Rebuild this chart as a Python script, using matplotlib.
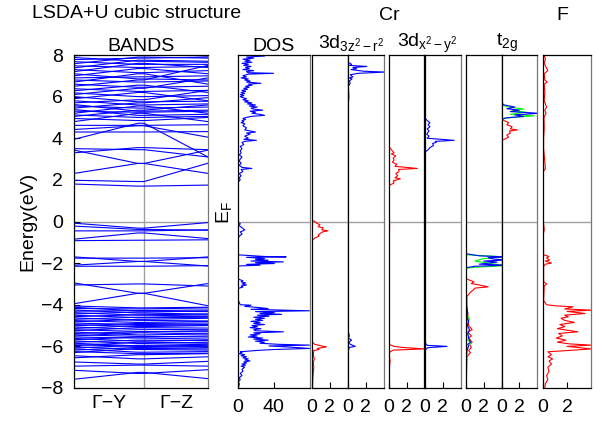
import matplotlib.pyplot as plt
import numpy as np

plt.rcParams['font.family'] = ['Liberation Sans', 'DejaVu Sans']
plt.rcParams['mathtext.fontset'] = 'custom'
plt.rcParams['mathtext.rm'] = 'Liberation Sans'
plt.rcParams['mathtext.it'] = 'Liberation Sans'
plt.rcParams['mathtext.sf'] = 'Liberation Sans'

FS = 14

# k path: Y (0) -> Gamma (1.0) -> Z (1.91); bands meet just before Gamma
kpath = [0.0, 0.91, 1.0, 1.91]
k_gamma = 1.0

# band energies (eV) at Y, Gamma and Z
band_y = [-7.58, -7.15, -6.95, -6.75, -6.55, -6.45,
          -6.30, -6.25, -6.18, -6.12, -6.08, -6.02, -5.97, -5.92, -5.85, -5.80,
          -5.74, -5.68, -5.62, -5.55, -5.50, -5.44, -5.38, -5.31, -5.25, -5.20,
          -5.14, -5.07, -5.01, -4.95, -4.88, -4.82, -4.76, -4.70, -4.63, -4.57,
          -4.50, -4.44, -4.38, -4.31, -4.25, -4.18, -4.12, -4.06,
          -3.95, -2.95, -3.05,
          -1.70, -1.76, -2.10, -2.15,
          -0.08, -0.22, -0.45, -0.85, -0.92,
          1.80, 1.98, 2.31, 3.43, 3.50, 3.30,
          3.95, 4.30, 4.42, 4.62, 4.80, 4.95, 5.05, 5.12, 5.20, 5.30, 5.38, 5.45,
          5.55, 5.62, 5.70, 5.80, 5.90, 6.00, 6.10, 6.18, 6.28, 6.38, 6.50, 6.60,
          6.70, 6.80, 6.90, 7.00, 7.10, 7.20, 7.30, 7.38, 7.48, 7.58, 7.68, 7.78,
          7.88, 7.96]
band_g = [-7.25, -7.30, -6.90, -6.85, -6.40, -6.60,
          -6.10, -6.35, -6.05, -6.28, -5.95, -6.15, -5.80, -6.00, -5.98, -5.70,
          -5.86, -5.55, -5.75, -5.60, -5.35, -5.52, -5.30, -5.45, -5.10, -5.28,
          -5.00, -5.18, -4.90, -5.05, -4.95, -4.70, -4.85, -4.60, -4.75, -4.48,
          -4.62, -4.35, -4.50, -4.28, -4.40, -4.20, -4.30, -4.15,
          -3.45, -3.45, -3.00,
          -1.92, -1.76, -1.92, -2.15,
          -0.32, -0.38, -0.45, -0.55, -0.90,
          1.70, 1.92, 2.79, 2.79, 3.45, 3.55,
          4.72, 4.30, 4.60, 4.62, 5.20, 4.85, 5.35, 5.00, 5.55, 5.25, 5.10, 5.70,
          5.45, 5.30, 5.85, 5.60, 6.20, 5.75, 6.40, 6.00, 6.55, 6.25, 6.80, 6.45,
          7.10, 6.70, 6.95, 7.35, 6.85, 7.60, 7.15, 7.75, 7.40, 7.90, 7.55, 7.85,
          7.70, 8.10]
band_z = [-7.55, -7.12, -6.95, -6.72, -6.35, -6.50,
          -6.12, -6.33, -6.00, -6.25, -5.90, -6.18, -5.85, -6.05, -5.95, -5.72,
          -5.80, -5.50, -5.70, -5.65, -5.40, -5.55, -5.25, -5.40, -5.12, -5.30,
          -4.95, -5.20, -4.88, -5.00, -4.98, -4.65, -4.80, -4.55, -4.78, -4.45,
          -4.60, -4.30, -4.55, -4.25, -4.45, -4.15, -4.33, -4.12,
          -4.05, -2.98, -3.10,
          -1.70, -1.74, -2.14, -2.12,
          -0.05, -0.42, -0.40, -0.82, -0.88,
          1.75, 2.80, 2.31, 3.43, 3.10, 3.45,
          3.10, 4.32, 4.05, 4.65, 4.80, 5.00, 5.60, 5.05, 5.20, 5.30, 5.15, 5.95,
          5.50, 5.35, 6.30, 5.65, 5.80, 5.78, 6.90, 6.05, 6.20, 6.30, 7.50, 6.50,
          6.60, 6.75, 7.00, 7.10, 6.80, 7.40, 7.25, 7.70, 7.45, 7.85, 7.55, 7.90,
          7.65, 7.95]

# total DOS (energy, states/eV)
dos_total = [(8.0, 25), (7.95, 30), (7.9, 10), (7.85, 18), (7.8, 6), (7.75, 14), (7.7, 8),
             (7.65, 16), (7.6, 5), (7.55, 12), (7.5, 7), (7.45, 15), (7.4, 9), (7.35, 13),
             (7.3, 6), (7.25, 18), (7.2, 10), (7.15, 12), (7.12, 40), (7.08, 12), (7.0, 6),
             (6.95, 10), (6.9, 4), (6.85, 12), (6.8, 8), (6.75, 14), (6.7, 10), (6.64, 26),
             (6.6, 12), (6.55, 16), (6.5, 9), (6.45, 13), (6.4, 7), (6.35, 11), (6.3, 5),
             (6.25, 9), (6.2, 4), (6.15, 8), (6.1, 3), (6.05, 7), (6.0, 3), (5.95, 6),
             (5.9, 10), (5.85, 6), (5.8, 12), (5.75, 8), (5.7, 16), (5.65, 11), (5.6, 20),
             (5.55, 13), (5.5, 22), (5.45, 15), (5.4, 18), (5.35, 28), (5.3, 14), (5.25, 20),
             (5.2, 16), (5.15, 25), (5.1, 30), (5.05, 15), (5.0, 10), (4.95, 6), (4.9, 9),
             (4.85, 5), (4.8, 7), (4.75, 4), (4.7, 8), (4.6, 6), (4.5, 10), (4.4, 8),
             (4.3, 20), (4.25, 10), (4.2, 14), (4.1, 8), (4.0, 12), (3.95, 7), (3.9, 21),
             (3.85, 8), (3.8, 5), (3.7, 7), (3.6, 3), (3.5, 5), (3.4, 3), (3.3, 4), (3.2, 2),
             (3.1, 5), (3.0, 3), (2.9, 2), (2.8, 4), (2.7, 2), (2.6, 5), (2.55, 16), (2.5, 4),
             (2.4, 6), (2.3, 2), (2.2, 4), (2.1, 2), (2.0, 3), (1.9, 1), (1.8, 0.5), (1.7, 0),
             (0.0, 0), (-0.05, 1), (-0.1, 3), (-0.2, 2), (-0.3, 5), (-0.4, 8), (-0.45, 6),
             (-0.5, 3), (-0.6, 5), (-0.7, 2), (-0.8, 1), (-0.9, 0), (-1.6, 0), (-1.68, 30),
             (-1.7, 54), (-1.72, 10), (-1.78, 30), (-1.82, 20), (-1.86, 34), (-1.9, 15),
             (-1.94, 51), (-1.98, 20), (-2.02, 41), (-2.06, 10), (-2.1, 25), (-2.14, 0),
             (-2.75, 0), (-2.8, 3), (-2.85, 6), (-2.9, 4), (-2.95, 9), (-3.0, 5), (-3.05, 10),
             (-3.1, 4), (-3.15, 6), (-3.2, 2), (-3.25, 0), (-3.6, 0), (-3.8, 1), (-3.9, 2),
             (-4.0, 3), (-4.02, 15), (-4.08, 8), (-4.12, 20), (-4.18, 34), (-4.22, 15),
             (-4.29, 80), (-4.33, 20), (-4.38, 41), (-4.42, 25), (-4.46, 49), (-4.5, 22),
             (-4.55, 35), (-4.6, 18), (-4.65, 30), (-4.7, 20), (-4.75, 28), (-4.8, 15),
             (-4.85, 25), (-4.9, 18), (-4.95, 30), (-5.0, 16), (-5.05, 22), (-5.1, 14),
             (-5.15, 26), (-5.2, 18), (-5.25, 20), (-5.3, 51), (-5.35, 18), (-5.4, 25),
             (-5.45, 14), (-5.5, 22), (-5.55, 12), (-5.6, 28), (-5.65, 18), (-5.7, 34),
             (-5.75, 20), (-5.8, 30), (-5.85, 25), (-5.9, 45), (-5.94, 80), (-5.98, 35),
             (-6.04, 60), (-6.1, 80), (-6.15, 41), (-6.2, 20), (-6.26, 3), (-6.3, 5),
             (-6.35, 2), (-6.4, 8), (-6.45, 4), (-6.5, 10), (-6.55, 6), (-6.6, 12),
             (-6.65, 8), (-6.7, 14), (-6.75, 7), (-6.8, 10), (-6.85, 5), (-6.9, 9),
             (-6.95, 4), (-7.0, 8), (-7.1, 5), (-7.2, 6), (-7.3, 3), (-7.4, 5), (-7.5, 2),
             (-7.6, 3), (-7.7, 1), (-7.8, 2), (-8.0, 1)]

# Cr 3d(3z2-r2), spin up / spin down
cr_z2_up = [(8, 0.05), (0.05, 0.05), (0.0, 0.3), (-0.1, 0.6), (-0.15, 0.9), (-0.25, 0.7),
            (-0.3, 1.25), (-0.4, 1.1), (-0.45, 1.8), (-0.5, 1.2), (-0.55, 1.0), (-0.65, 0.7),
            (-0.7, 0.8), (-0.8, 0.3), (-0.9, 0.05), (-5.8, 0.05), (-5.9, 0.3), (-5.95, 0.8),
            (-6.0, 1.3), (-6.02, 1.6), (-6.06, 1.1), (-6.1, 0.6), (-6.15, 0.8), (-6.2, 0.2),
            (-6.4, 0.15), (-6.6, 0.25), (-6.8, 0.15), (-7.0, 0.2), (-7.5, 0.1), (-8, 0.05)]
cr_z2_dn = [(8, 0.05), (7.65, 0.05), (7.6, 0.3), (7.55, 0.45), (7.5, 0.2), (7.45, 2.15),
            (7.4, 0.6), (7.35, 1.0), (7.3, 0.4), (7.22, 1.8), (7.18, 4.2), (7.12, 1.2),
            (7.05, 0.3), (6.95, 0.6), (6.9, 0.2), (6.85, 0.5), (6.75, 0.2), (6.65, 0.3),
            (6.5, 0.1), (6.0, 0.15), (5.5, 0.08), (5.0, 0.05), (4.0, 0.03), (0.0, 0.02),
            (-0.5, 0.1), (-1.0, 0.02), (-5.0, 0.02), (-5.3, 0.1), (-5.5, 0.2), (-5.6, 0.1),
            (-5.7, 0.45), (-5.8, 0.15), (-5.9, 0.3), (-6.0, 0.85), (-6.05, 0.2), (-6.2, 0.1),
            (-6.5, 0.05), (-8, 0.02)]

# Cr 3d(x2-y2), spin up / spin down
cr_x2_up = [(8, 0.03), (3.6, 0.03), (3.5, 0.2), (3.4, 0.4), (3.3, 0.6), (3.25, 0.3),
            (3.15, 0.78), (3.05, 0.5), (2.95, 0.6), (2.85, 0.4), (2.75, 0.9), (2.65, 0.7),
            (2.55, 3.2), (2.5, 1.1), (2.4, 1.15), (2.3, 0.8), (2.2, 1.0), (2.1, 0.7),
            (2.05, 1.3), (1.95, 0.5), (1.85, 0.6), (1.75, 0.1), (1.6, 0.03), (-0.3, 0.1),
            (-0.4, 0.03), (-5.9, 0.03), (-6.0, 0.6), (-6.05, 1.5), (-6.12, 4.0), (-6.18, 0.5),
            (-6.3, 0.05), (-6.7, 0.15), (-6.9, 0.1), (-8, 0.03)]
cr_x2_dn = [(8, 0.02), (7.2, 0.08), (7.0, 0.02), (5.0, 0.02), (4.95, 0.1), (4.85, 0.3),
            (4.75, 0.6), (4.65, 0.4), (4.55, 0.6), (4.45, 0.3), (4.35, 0.5), (4.2, 0.25),
            (4.1, 0.5), (4.0, 0.3), (3.9, 3.3), (3.85, 1.2), (3.8, 1.3), (3.75, 0.9),
            (3.65, 1.0), (3.55, 0.6), (3.45, 0.4), (3.35, 0.1), (3.2, 0.02), (-5.8, 0.02),
            (-5.95, 0.3), (-6.0, 2.5), (-6.06, 0.4), (-6.15, 0.1), (-6.5, 0.05), (-8, 0.02)]

# Cr t2g orbitals, spin up
t2g_up_a = [(8, 0.02), (-2.75, 0.02), (-2.8, 0.3), (-2.9, 0.9), (-2.98, 0.6), (-3.05, 1.5),
            (-3.14, 2.5), (-3.2, 1.0), (-3.3, 0.8), (-3.4, 0.5), (-3.5, 0.3), (-3.6, 0.1),
            (-4.0, 0.1), (-4.5, 0.2), (-5.0, 0.3), (-5.2, 0.7), (-5.3, 0.2), (-5.5, 0.6),
            (-5.6, 0.3), (-5.8, 0.7), (-5.9, 0.4), (-6.05, 0.6), (-6.2, 0.3), (-6.3, 0.5),
            (-6.5, 0.1), (-8, 0.02)]
t2g_up_b = [(8, 0.02), (-1.55, 0.02), (-1.65, 1.5), (-1.7, 4.5), (-1.74, 2.5), (-1.8, 3.0),
            (-1.85, 4.5), (-1.9, 2.0), (-1.95, 3.5), (-2.05, 1.5), (-2.1, 4.5), (-2.15, 1.0),
            (-2.22, 0.02), (-4.0, 0.02), (-4.4, 0.2), (-4.6, 0.1), (-4.8, 0.3), (-5.0, 0.15),
            (-5.2, 0.4), (-5.4, 0.2), (-5.6, 0.3), (-5.8, 0.5), (-5.9, 0.2), (-6.0, 0.3),
            (-6.2, 0.1), (-6.5, 0.05), (-8, 0.02)]
t2g_up_c = [(8, 0.02), (-1.6, 0.02), (-1.7, 4.5), (-1.78, 2.0), (-1.9, 1.0), (-2.0, 2.5),
            (-2.12, 4.5), (-2.2, 1.0), (-2.25, 0.02), (-4.4, 0.02), (-4.7, 0.4), (-4.8, 0.1),
            (-5.3, 0.1), (-5.5, 0.3), (-5.7, 0.2), (-5.85, 0.6), (-5.95, 0.3), (-6.1, 0.1),
            (-8, 0.02)]
# Cr t2g orbitals, spin down
t2g_dn_a = [(8, 0.02), (4.9, 0.02), (4.85, 0.3), (4.75, 0.8), (4.65, 0.6), (4.55, 1.2),
            (4.45, 1.0), (4.4, 1.8), (4.35, 0.9), (4.25, 1.0), (4.15, 0.6), (4.05, 0.8),
            (3.95, 0.3), (3.9, 0.05), (3.8, 0.02), (-8, 0.02)]
t2g_dn_b = [(8, 0.02), (5.7, 0.02), (5.6, 0.3), (5.5, 1.5), (5.42, 0.6), (5.35, 2.0),
            (5.28, 1.0), (5.2, 4.2), (5.12, 1.5), (5.05, 2.5), (4.98, 0.5), (4.9, 0.05),
            (0, 0.02), (-8, 0.02)]
t2g_dn_c = [(8, 0.02), (5.6, 0.02), (5.5, 0.8), (5.4, 2.5), (5.32, 1.2), (5.25, 2.8),
            (5.15, 1.0), (5.08, 3.7), (5.0, 1.2), (4.95, 0.1), (4.9, 0.02), (-8, 0.02)]

# F partial DOS
f_dos = [(8, 0.1), (7.8, 0.2), (7.6, 0.1), (7.25, 0.4), (7.1, 0.1), (6.8, 0.15), (6.7, 0.35),
         (6.6, 0.1), (6.2, 0.15), (5.8, 0.1), (5.5, 0.3), (5.35, 0.15), (5.2, 0.25), (5.0, 0.08),
         (4.5, 0.1), (4.0, 0.05), (3.5, 0.05), (2.55, 0.2), (2.4, 0.03), (0.0, 0.03), (-0.4, 0.1),
         (-0.6, 0.03), (-1.6, 0.05), (-1.68, 0.5), (-1.75, 0.3), (-1.85, 0.55), (-1.9, 0.2),
         (-2.0, 0.7), (-2.05, 0.2), (-2.15, 0.05), (-2.9, 0.05), (-3.0, 0.3), (-3.1, 0.1),
         (-3.8, 0.05), (-4.0, 0.3), (-4.05, 1.0), (-4.1, 2.5), (-4.2, 1.8), (-4.26, 4.0),
         (-4.32, 2.0), (-4.42, 3.5), (-4.5, 1.8), (-4.58, 2.1), (-4.65, 1.5), (-4.75, 1.8),
         (-4.85, 2.6), (-4.95, 1.4), (-5.05, 1.8), (-5.15, 1.2), (-5.3, 2.9), (-5.38, 1.3),
         (-5.5, 1.6), (-5.6, 1.1), (-5.7, 1.9), (-5.8, 1.2), (-5.88, 2.2), (-5.94, 4.0),
         (-6.0, 2.0), (-6.06, 3.0), (-6.12, 4.0), (-6.18, 2.6), (-6.26, 0.4), (-6.4, 0.7),
         (-6.5, 0.4), (-6.6, 0.8), (-6.7, 0.5), (-6.85, 0.7), (-7.0, 0.4), (-7.2, 0.5),
         (-7.4, 0.3), (-7.6, 0.4), (-7.8, 0.2), (-8, 0.15)]

W, H = 595, 422
fig = plt.figure(figsize=(W / 100, H / 100), dpi=100)


def add_ax(x0, x1, top=55, bottom=388):
    return fig.add_axes([x0 / W, (H - bottom) / H, (x1 - x0) / W, (bottom - top) / H])


def style(ax, xlim, ticks, labels):
    ax.set_ylim(-8, 8)
    ax.set_xlim(*xlim)
    ax.set_yticks([])
    ax.set_xticks(ticks)
    ax.set_xticklabels(labels)
    ax.tick_params(axis='x', direction='in', length=4, labelsize=FS, pad=8)
    ax.axhline(0, color='#a0a0a0', lw=1, zorder=0)
    for s in ax.spines.values():
        s.set_linewidth(0.9)
    ax.spines['right'].set_color('#777777')


def draw(ax, data, color):
    arr = np.array(data, dtype=float)
    ax.plot(arr[:, 1], arr[:, 0], color=color, lw=0.8)


# band structure
ax_b = add_ax(74, 208)
for ey, eg, ez in zip(band_y, band_g, band_z):
    ax_b.plot(kpath, [ey, eg, eg, ez], color='#0000ff', lw=0.8)
ax_b.axvline(k_gamma, color='#a0a0a0', lw=1, zorder=0)
ax_b.axhline(0, color='#a0a0a0', lw=1, zorder=0)
ax_b.set_xlim(kpath[0], kpath[-1])
ax_b.set_ylim(-8, 8)
ax_b.set_yticks(np.arange(-8, 9, 2))
ax_b.set_xticks([0.5, 1.455])
ax_b.set_xticklabels(['Γ−Y', 'Γ−Z'])
ax_b.tick_params(axis='y', direction='in', length=4, labelsize=FS, pad=8)
ax_b.tick_params(axis='x', length=0, labelsize=FS, pad=5)
for s in ax_b.spines.values():
    s.set_linewidth(0.9)
ax_b.spines['right'].set_color('#777777')
ax_b.set_title('BANDS', fontsize=FS, pad=2)
ax_b.set_ylabel('Energy(eV)', fontsize=FS, labelpad=3)

# total DOS
ax_d = add_ax(237.5, 309.5)
draw(ax_d, dos_total, '#0000ff')
style(ax_d, (0, 80), [0, 40], ['0', '40'])
ax_d.set_title('DOS', fontsize=FS, pad=2)

# Cr d orbitals, up (left half) and down (right half)
panels = [
    ((312, 347.5), (347.5, 383.5), [(cr_z2_up, 'red')], [(cr_z2_dn, '#0000ff')]),
    ((388.7, 424.5), (424.5, 460.5), [(cr_x2_up, 'red')], [(cr_x2_dn, '#0000ff')]),
    ((466, 501.5), (501.5, 537),
     [(t2g_up_a, 'red'), (t2g_up_c, '#00ff00'), (t2g_up_b, '#0000ff')],
     [(t2g_dn_a, 'red'), (t2g_dn_c, '#00ff00'), (t2g_dn_b, '#0000ff')]),
]
for (la, ra, lcurves, rcurves) in panels:
    axl = add_ax(*la)
    axr = add_ax(*ra)
    for data, c in lcurves:
        draw(axl, data, c)
    for data, c in rcurves:
        draw(axr, data, c)
    style(axl, (0, 4), [0, 2], ['0', '2'])
    style(axr, (0, 4), [0, 2], ['0', '2'])
    axl.spines['right'].set_color('black')

# F
ax_f = add_ax(543, 590.5)
draw(ax_f, f_dos, 'red')
style(ax_f, (0, 3.95), [0, 2], ['0', '2'])

fig.text(137 / W, 1 - 14 / H, 'LSDA+U cubic structure', fontsize=FS, ha='center', va='center')
fig.text(389 / W, 1 - 15 / H, 'Cr', fontsize=FS, ha='center', va='center')
fig.text(562 / W, 1 - 15 / H, 'F', fontsize=FS, ha='center', va='center')
fig.text(351 / W, 1 - 43 / H, r'3d$_{\mathrm{3z^2-r^2}}$', fontsize=FS, ha='center', va='center')
fig.text(427 / W, 1 - 43 / H, r'3d$_{\mathrm{x^2-y^2}}$', fontsize=FS, ha='center', va='center')
fig.text(507 / W, 1 - 43 / H, r't$_{\mathrm{2g}}$', fontsize=FS, ha='center', va='center')
fig.text(224 / W, 1 - 213 / H, r'E$_{\mathrm{F}}$', fontsize=FS, ha='center', va='center', rotation=90)

fig.savefig('out.png', dpi=100)
